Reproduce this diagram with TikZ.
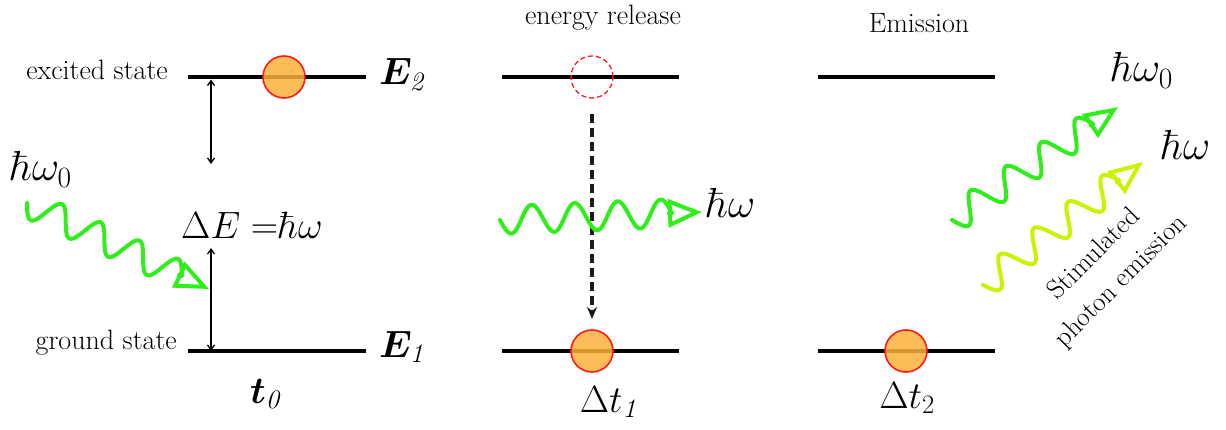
\RequirePackage{fix-cm}
\documentclass[tikz,border=0pt]{standalone}
\usepackage{bm}
\usetikzlibrary{arrows.meta,calc}
\definecolor{elecfill}{HTML}{FBB03B}
\definecolor{elecdraw}{HTML}{FF1A1A}
\definecolor{phgreen}{HTML}{30EE1C}
\definecolor{phyellow}{HTML}{CCF200}
\definecolor{dasharrow}{HTML}{231816}
% photon wave from coordinate #1 to coordinate #2, colour #3
\newcommand{\photonwave}[3]{%
  \path let \p1=($(#2)-(#1)$) in \pgfextra{%
    \pgfmathsetmacro\phang{atan2(\y1,\x1)}%
    \pgfmathsetmacro\phlen{veclen(\x1,\y1)}%
    \global\let\phangG\phang\global\let\phlenG\phlen};
  \pgfmathsetmacro\phwave{\phlenG-30}%
  \pgfmathsetmacro\phn{max(1,round(\phwave/44))}%
  \pgfmathsetmacro\phwl{\phwave/\phn}%
  \begin{scope}[shift={(#1)}, rotate=\phangG]
    \draw[photonline, #3] plot[domain=0:\phwave, samples=160, smooth]
      (\x, {14*sin((\x/\phwl)*360)}) -- (\phlenG,0);
  \end{scope}}
\begin{document}
\begin{tikzpicture}[x=1pt,y=-1pt,
  level/.style={line width=4.5pt},
  elec/.style={circle, minimum size=42pt, inner sep=0pt, draw=elecdraw, line width=1.6pt, fill=elecfill, fill opacity=0.85},
  hole/.style={circle, minimum size=42pt, inner sep=0pt, draw=elecdraw, dash pattern=on 5pt off 3pt, line width=1.3pt},
  photonline/.style={line width=4pt, line cap=round, line join=round,
    -{Triangle[open,length=34pt,width=28pt,line width=4pt]}},
  lbl/.style={font=\fontsize{28}{32}\selectfont, inner sep=0pt},
  big/.style={font=\fontsize{38}{44}\selectfont, inner sep=0pt},
  hw/.style={font=\fontsize{42}{48}\selectfont, inner sep=0pt},
  gap/.style={line width=1.3pt, {Straight Barb[length=5pt,width=7pt]}-{Straight Barb[length=5pt,width=7pt]}}]
\useasboundingbox (0,0) rectangle (1226,430);

% ---------- panel 1 ----------
\coordinate (a1) at (188,77); \coordinate (a2) at (366,77);
\coordinate (b1) at (188,351); \coordinate (b2) at (366,351);
\draw[level] (a1) -- (a2);
\draw[level] (b1) -- (b2);
\node[elec] (e1) at (284,77) {};
\node[lbl, anchor=mid east] (exc) at (168,77) {excited state};
\node[lbl, anchor=mid east] (gnd) at (177,347) {ground state};
\node[big, anchor=base west] (E2) at (379,85) {$\bm{E}_{\mathit{2}}$};
\node[big, anchor=base west] (E1) at (379,357) {$\bm{E}_{\mathit{1}}$};
\node[big, anchor=base west] (dE) at (181,239) {$\Delta E\;{=}\hbar\omega$};
\node[big, anchor=base west] (t0) at (250,403) {$\bm{t}_{\mathit{0}}$};
\coordinate (u1) at (211,79.5); \coordinate (u2) at (211,164);
\coordinate (d1) at (211,351); \coordinate (d2) at (211,248);
\draw[gap] (u1) -- (u2);
\draw[gap] (d1) -- (d2);
\node[hw, anchor=base west] (hw0a) at (10,181) {$\hbar\omega_0$};
\coordinate (p1s) at (27,203); \coordinate (p1e) at (209,289);
\photonwave{p1s}{p1e}{phgreen}

% ---------- panel 2 ----------
\coordinate (c1) at (502,77); \coordinate (c2) at (679,77);
\coordinate (f1) at (502,351); \coordinate (f2) at (679,351);
\draw[level] (c1) -- (c2);
\draw[level] (f1) -- (f2);
\node[hole] (h2) at (592,77) {};
\node[elec] (e2) at (592,351) {};
\node[lbl, anchor=base] (rel) at (603,25) {energy release};
\node[big, anchor=base] (dt1) at (610,412) {$\Delta t_{\mathit{1}}$};
\coordinate (k1) at (592,114); \coordinate (k2) at (592,319);
\draw[dasharrow, line width=3.2pt, dash pattern=on 9pt off 5pt, -{Stealth[length=12pt,width=10pt]}] (k1) -- (k2);
\coordinate (p2s) at (500,220); \coordinate (p2e) at (702,212);
\photonwave{p2s}{p2e}{phgreen}
\node[hw, anchor=base west] (hw2) at (706,218) {$\hbar\omega$};

% ---------- panel 3 ----------
\coordinate (g1) at (818,77); \coordinate (g2) at (995,77);
\coordinate (m1) at (818,351); \coordinate (m2) at (995,351);
\draw[level] (g1) -- (g2);
\draw[level] (m1) -- (m2);
\node[elec] (e3) at (906,351) {};
\node[lbl, anchor=base] (emi) at (919,33) {Emission};
\node[big, anchor=base] (dt2) at (907,408) {$\Delta t_2$};
\coordinate (p3s) at (952,220); \coordinate (p3e) at (1118,107);
\photonwave{p3s}{p3e}{phgreen}
\coordinate (p4s) at (983,285); \coordinate (p4e) at (1143,162);
\photonwave{p4s}{p4e}{phyellow}
\node[hw, anchor=base west] (hw0b) at (1111,82) {$\hbar\omega_0$};
\node[hw, anchor=base west] (hw3) at (1161,160) {$\hbar\omega$};
\node[font=\fontsize{27}{38}\selectfont, align=center, rotate=45, inner sep=0pt] (stim) at (1108,268) {Stimulated\\photon emission};
\end{tikzpicture}
\end{document}
